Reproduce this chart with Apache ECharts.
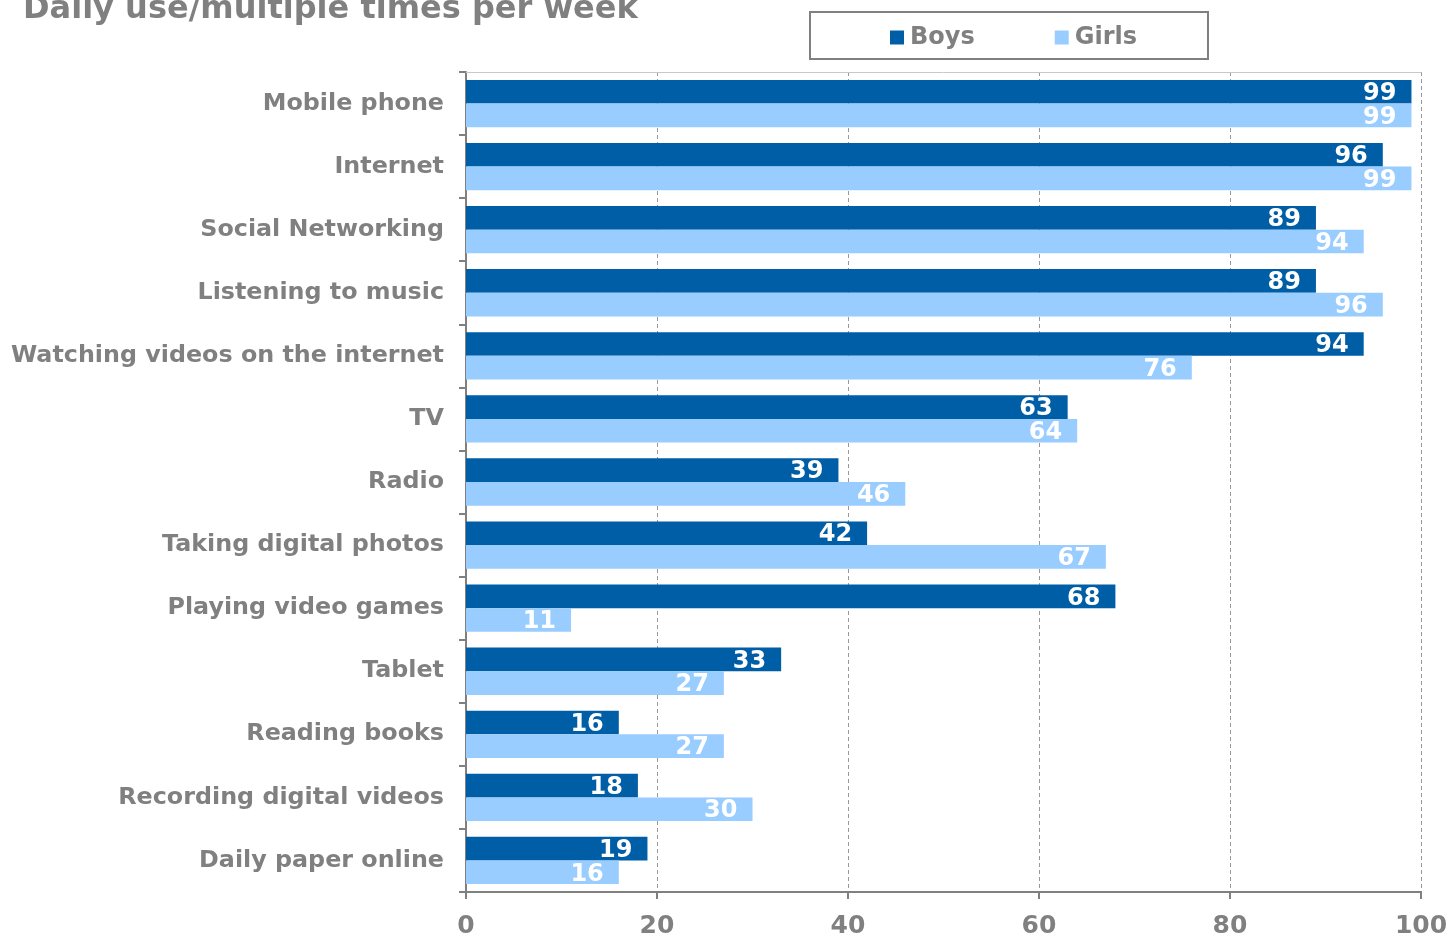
<!DOCTYPE html>
<html>
<head>
<meta charset="utf-8">
<script src="https://cdn.jsdelivr.net/npm/echarts@6/dist/echarts.min.js"></script>
<style>
  html, body { margin: 0; padding: 0; background: #ffffff; }
  #chart { width: 1449px; height: 934px; }
</style>
</head>
<body>
<div id="chart"></div>
<script>
// Activities, top to bottom
const categories = [
  'Mobile phone', 'Internet', 'Social Networking', 'Listening to music',
  'Watching videos on the internet', 'TV', 'Radio', 'Taking digital photos',
  'Playing video games', 'Tablet', 'Reading books', 'Recording digital videos',
  'Daily paper online'
];
// Share (%) using each daily or multiple times per week
const boys  = [99, 96, 89, 89, 94, 63, 39, 42, 68, 33, 16, 18, 19];
const girls = [99, 99, 94, 96, 76, 64, 46, 67, 11, 27, 27, 30, 16];
const seriesNames = ['Boys', 'Girls'];
const titleText = 'Daily use/multiple times per week';

const FONT = '"DejaVu Sans", Verdana, sans-serif';
const GREY = '#808080';
const DARK = '#005EA6';
const LIGHT = '#99CCFF';

const valueLabel = {
  show: true,
  position: 'insideRight',
  distance: 15,
  offset: [0, 2],
  color: '#ffffff',
  fontFamily: FONT,
  fontWeight: 'bold',
  fontSize: 24
};

const chart = echarts.init(document.getElementById('chart'), null, { renderer: 'canvas' });
chart.setOption({
  animation: false,
  backgroundColor: '#ffffff',
  title: {
    text: titleText,
    left: 18,
    top: -11,
    textStyle: { fontFamily: FONT, fontWeight: 'bold', fontSize: 32, color: GREY }
  },
  legend: {
    data: seriesNames,
    left: 810,
    top: 12,
    padding: [12, 71, 8, 80],
    itemGap: 80,
    itemWidth: 14,
    itemHeight: 14,
    borderColor: GREY,
    borderWidth: 2,
    icon: 'rect',
    textStyle: { fontFamily: FONT, fontWeight: 'bold', fontSize: 24, color: GREY, padding: [2, 0, 0, 1], lineHeight: 25 }
  },
  grid: { left: 466, right: 28, top: 72, bottom: 42, containLabel: false, outerBoundsMode: 'none' },
  xAxis: [{
    type: 'value',
    min: 0,
    max: 100,
    interval: 20,
    position: 'bottom',
    axisLine: { show: true, lineStyle: { color: GREY, width: 2 } },
    axisTick: { show: true, length: 7, lineStyle: { color: GREY, width: 2 } },
    axisLabel: { fontFamily: FONT, fontWeight: 'bold', fontSize: 25, color: GREY, margin: 22 },
    splitLine: { show: true, lineStyle: { color: '#999999', type: [4, 3], width: 1 } }
  }, {
    type: 'value',
    min: 0,
    max: 100,
    position: 'top',
    axisLine: { show: true, lineStyle: { color: '#c8c8c8', width: 1 } },
    axisTick: { show: false },
    axisLabel: { show: false },
    splitLine: { show: false }
  }],
  yAxis: {
    type: 'category',
    data: categories,
    inverse: true,
    axisLine: { show: true, lineStyle: { color: GREY, width: 2 } },
    axisTick: { show: true, length: 7, lineStyle: { color: GREY, width: 2 } },
    axisLabel: { fontFamily: FONT, fontWeight: 'bold', fontSize: 23.8, color: GREY, margin: 22, padding: [6, 0, 0, 0] }
  },
  series: [{
    name: seriesNames[0],
    type: 'bar',
    data: boys,
    itemStyle: { color: DARK },
    barGap: '0%',
    barCategoryGap: '25%',
    label: valueLabel
  }, {
    name: seriesNames[1],
    type: 'bar',
    data: girls,
    itemStyle: { color: LIGHT },
    barGap: '0%',
    barCategoryGap: '25%',
    label: valueLabel
  }]
});
</script>
</body>
</html>
